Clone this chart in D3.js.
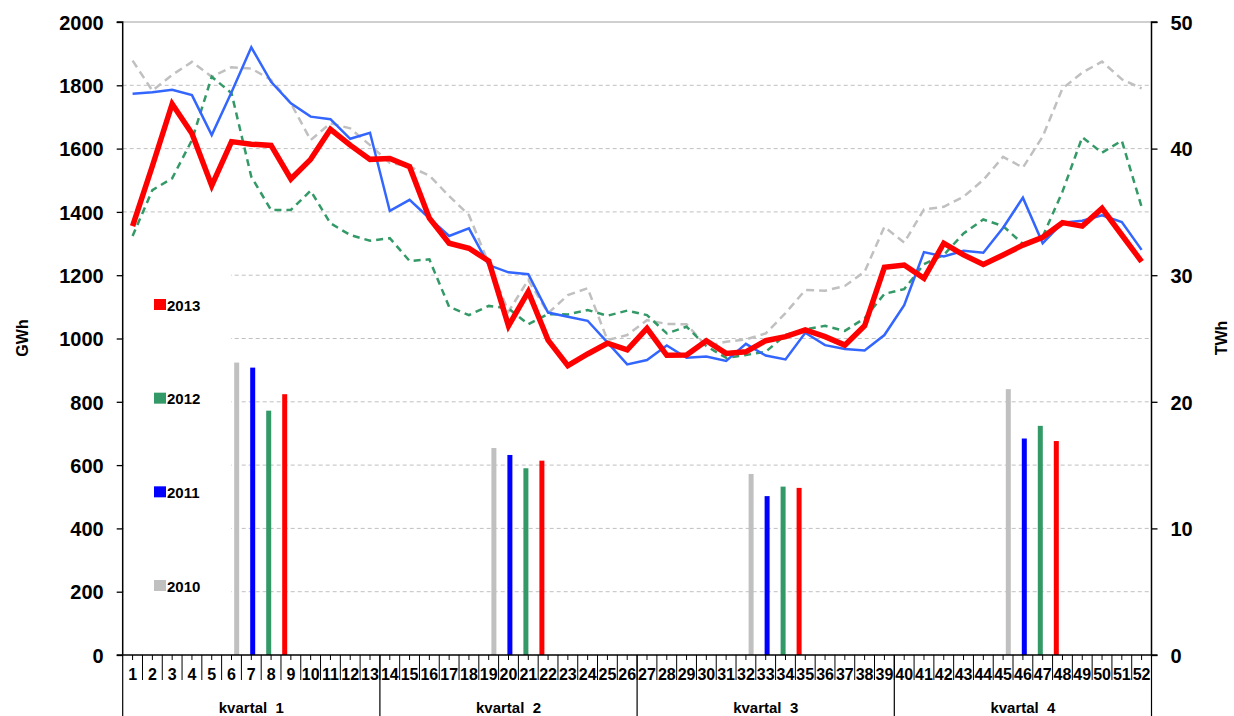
<!DOCTYPE html>
<html><head><meta charset="utf-8">
<script src="https://cdn.jsdelivr.net/npm/d3@7"></script>
<style>
html,body{margin:0;padding:0;background:#fff;}
svg text{font-family:"Liberation Sans",Arial,sans-serif;font-weight:bold;fill:#000;}
</style></head>
<body>
<svg id="chart" width="1234" height="716"></svg>
<script>
const weeks = d3.range(1, 53);
const quarters = ["kvartal  1", "kvartal  2", "kvartal  3", "kvartal  4"];
const years = ["2010", "2011", "2012", "2013"];
const legendYears = ["2013", "2012", "2011", "2010"];
const leftTicks = [0, 200, 400, 600, 800, 1000, 1200, 1400, 1600, 1800, 2000];
const rightTicks = [0, 10, 20, 30, 40, 50];

// weekly GWh
const gwh2013 = [1355,1545,1741,1648,1483,1622,1614,1610,1504,1566,1661,1611,1566,1569,1543,1380,1301,1285,1245,1040,1148,995,914,951,985,964,1032,947,948,993,953,958,993,1006,1027,1006,979,1040,1225,1232,1190,1301,1264,1234,1264,1295,1320,1366,1355,1411,1327,1243];
const gwh2012 = [1324,1469,1506,1627,1827,1775,1511,1406,1406,1467,1364,1327,1309,1317,1245,1250,1100,1074,1103,1095,1045,1077,1076,1090,1072,1088,1074,1016,1037,976,939,948,958,1011,1029,1040,1024,1064,1141,1156,1235,1264,1332,1376,1355,1299,1322,1464,1636,1587,1625,1416];
const gwh2011 = [1773,1778,1786,1769,1643,1778,1920,1811,1743,1701,1693,1631,1650,1403,1438,1380,1324,1348,1232,1209,1203,1082,1069,1056,988,918,932,978,939,943,929,983,946,934,1018,979,967,962,1011,1105,1273,1259,1277,1271,1350,1445,1301,1366,1372,1389,1368,1280];
const gwh2010 = [1878,1783,1833,1874,1827,1857,1853,1817,1743,1627,1680,1664,1611,1555,1543,1515,1450,1390,1237,1085,1185,1080,1137,1159,995,1011,1058,1046,1045,976,990,997,1016,1080,1153,1151,1166,1211,1353,1303,1408,1416,1448,1501,1574,1540,1638,1790,1840,1875,1819,1790];

// quarterly TWh
const twh2010 = [23.1, 16.35, 14.3, 21.0];
const twh2011 = [22.7, 15.8, 12.55, 17.1];
const twh2012 = [19.3, 14.75, 13.3, 18.1];
const twh2013 = [20.6, 15.35, 13.2, 16.9];

const barColors = {"2010":"#C0C0C0","2011":"#0000FF","2012":"#339966","2013":"#FF0000"};

const svg = d3.select("#chart");
const L = 122.7, R = 1151.5, T = 22, B = 655;

const x = d3.scaleBand().domain(weeks).range([L, R]);
const xq = d3.scaleBand().domain(quarters).range([L, R]);
const xs = d3.scalePoint().domain(years).range([-24, 24]);
const y = d3.scaleLinear().domain([0, 2000]).range([B, T]);
const y2 = d3.scaleLinear().domain([0, 50]).range([B, T]);
const ly = d3.scalePoint().domain(legendYears).range([305, 586]);

// gridlines
svg.append("g").selectAll("line").data(leftTicks.filter(d => d > 0)).join("line")
  .attr("x1", L).attr("x2", R).attr("y1", d => y(d)).attr("y2", d => y(d))
  .attr("stroke", d => d === 2000 ? "#A0A0A0" : "#C0C0C0")
  .attr("stroke-width", 1)
  .attr("stroke-dasharray", d => d === 2000 ? null : "4,3");

// legend background box (hides gridlines)
svg.append("rect").attr("x", L + 1).attr("y", 240).attr("width", 231 - L - 1).attr("height", 390).attr("fill", "#fff");

// bars
const barData = [];
quarters.forEach((q, i) => {
  barData.push({q, yr:"2010", v: twh2010[i]});
  barData.push({q, yr:"2011", v: twh2011[i]});
  barData.push({q, yr:"2012", v: twh2012[i]});
  barData.push({q, yr:"2013", v: twh2013[i]});
});
const bw = 5;
svg.append("g").selectAll("rect").data(barData).join("rect")
  .attr("x", d => xq(d.q) + xq.bandwidth() / 2 + 9.4 + xs(d.yr) - bw / 2)
  .attr("width", bw)
  .attr("y", d => y2(d.v))
  .attr("height", d => B - y2(d.v))
  .attr("fill", d => barColors[d.yr]);

// lines
const line = d3.line().x((d, i) => x(weeks[i]) + x.bandwidth() / 2).y(d => y(d));
const series = [
  {data: gwh2010, color:"#C0C0C0", w:2.5, dash:"8,5"},
  {data: gwh2012, color:"#339966", w:2.5, dash:"7,5"},
  {data: gwh2011, color:"#3366FF", w:2.5, dash:null},
  {data: gwh2013, color:"#FF0000", w:5.5, dash:null}
];
svg.append("g").selectAll("path").data(series).join("path")
  .attr("d", d => line(d.data))
  .attr("fill", "none")
  .attr("stroke", d => d.color)
  .attr("stroke-width", d => d.w)
  .attr("stroke-dasharray", d => d.dash)
  .attr("stroke-linejoin", "miter")
  .attr("stroke-linecap", "butt");

// legend
const lg = svg.append("g").selectAll("g").data(legendYears).join("g")
  .attr("transform", d => `translate(154,${ly(d)})`);
lg.append("rect").attr("x", 0).attr("y", -6).attr("width", 12).attr("height", 11).attr("fill", d => barColors[d]);
lg.append("text").attr("x", 13).attr("y", 5.5).attr("font-size", 15).text(d => d);

// left axis
const axL = svg.append("g").attr("transform", `translate(${L},0)`)
  .call(d3.axisLeft(y).tickValues(leftTicks).tickSize(6).tickPadding(13).tickFormat(d3.format("d")));
axL.selectAll("text").attr("font-size", 20).attr("dy", "0.36em");
axL.selectAll("line").attr("stroke", "#000").attr("stroke-width", 1.3);
axL.select(".domain").attr("stroke", "#000").attr("stroke-width", 1.5).attr("d", `M-6,${T}H0V${B}`);

// right axis
const axR = svg.append("g").attr("transform", `translate(${R},0)`)
  .call(d3.axisRight(y2).tickValues(rightTicks).tickSize(6).tickPadding(13).tickFormat(d3.format("d")));
axR.selectAll("text").attr("font-size", 20).attr("dy", "0.36em");
axR.selectAll("line").attr("stroke", "#000").attr("stroke-width", 1.3);
axR.select(".domain").attr("stroke", "#000").attr("stroke-width", 1.5).attr("d", `M6,${T}H0V${B}`);

// bottom axis
const bot = svg.append("g");
bot.append("line").attr("x1", L - 6).attr("x2", R + 6).attr("y1", B).attr("y2", B).attr("stroke", "#000").attr("stroke-width", 1.5);
// week separators
bot.selectAll("line.sep").data(weeks.slice(1)).join("line").attr("class", "sep")
  .attr("x1", d => x(d)).attr("x2", d => x(d)).attr("y1", B).attr("y2", 680)
  .attr("stroke", "#000").attr("stroke-width", 1);
// small ticks at week centers
bot.selectAll("line.ct").data(weeks).join("line").attr("class", "ct")
  .attr("x1", d => x(d) + x.bandwidth() / 2).attr("x2", d => x(d) + x.bandwidth() / 2).attr("y1", B).attr("y2", 660)
  .attr("stroke", "#000").attr("stroke-width", 1);
// quarter separators
bot.selectAll("line.q").data(quarters.concat(["end"])).join("line").attr("class", "q")
  .attr("x1", (d, i) => i < 4 ? xq(d) : R).attr("x2", (d, i) => i < 4 ? xq(d) : R)
  .attr("y1", B).attr("y2", 716)
  .attr("stroke", "#000").attr("stroke-width", 1.2);
// week labels
bot.selectAll("text.wk").data(weeks).join("text").attr("class", "wk")
  .attr("x", d => x(d) + x.bandwidth() / 2).attr("y", 680)
  .attr("text-anchor", "middle").attr("font-size", 16).text(d => d);
// quarter labels
bot.selectAll("text.ql").data(quarters).join("text").attr("class", "ql")
  .attr("x", d => xq(d) + xq.bandwidth() / 2).attr("y", 713)
  .attr("text-anchor", "middle").attr("font-size", 15).style("white-space", "pre").text(d => d);

// axis titles
svg.append("text").attr("transform", `translate(28,338) rotate(-90)`).attr("text-anchor", "middle").attr("font-size", 16).text("GWh");
svg.append("text").attr("transform", `translate(1227,338) rotate(-90)`).attr("text-anchor", "middle").attr("font-size", 16).text("TWh");
</script>
</body></html>
